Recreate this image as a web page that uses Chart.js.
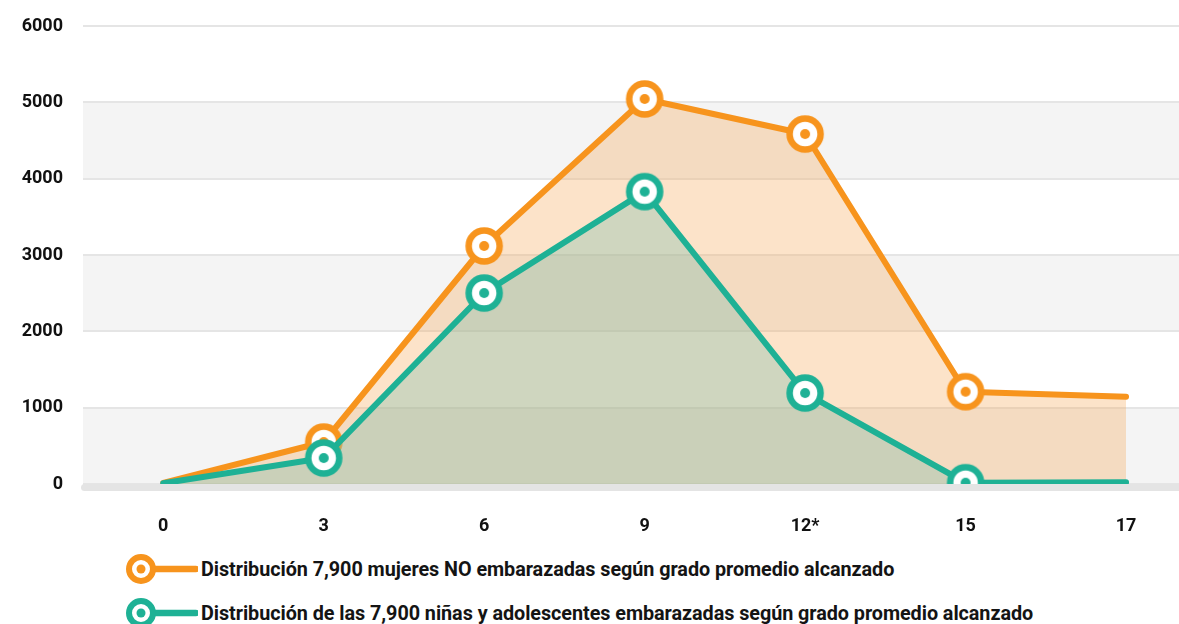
<!DOCTYPE html>
<html>
<head>
<meta charset="utf-8">
<script src="https://cdn.jsdelivr.net/npm/chart.js@4"></script>
<style>
    body { margin: 0; background: #fff; font-family: 'Roboto', sans-serif; }
    #wrap { position: relative; width: 1179px; height: 540px; }
    .legend-item { position: absolute; left: 118px; height: 40px; display: flex; align-items: center; }
    .legend-item span { font-weight: bold; font-size: 19.8px; color: #141414; margin-left: 3px; letter-spacing: -0.05px; }
</style>
</head>
<body>
<div id="wrap"><canvas id="myChart"></canvas></div>
<div class="legend-item" style="top:549px"><svg width="80" height="40" id="mk1"></svg><span>Distribución 7,900 mujeres NO embarazadas según grado promedio alcanzado</span></div>
<div class="legend-item" style="top:593px"><svg width="80" height="40" id="mk2"></svg><span>Distribución de las 7,900 niñas y adolescentes embarazadas según grado promedio alcanzado</span></div>
<script>
const categories = ['0', '3', '6', '9', '12*', '15', '17'];
const noEmbarazadas = [15, 550, 3118, 5044, 4585, 1209, 1144];
const embarazadas = [10, 340, 2502, 3830, 1192, 17, 22];
const yTicks = [0, 1000, 2000, 3000, 4000, 5000, 6000];
const pointSizes = [0, 16, 16, 16, 16, 16, 0];

const orange = '#f7941d';
const teal = '#1eb195';

// ring-with-dot marker used on the points
function makeMarker(color) {
    const c = document.createElement('canvas');
    c.width = 42; c.height = 42;
    const g = c.getContext('2d');
    g.beginPath();
    g.arc(21, 21, 15.5, 0, Math.PI * 2);
    g.fillStyle = '#fff';
    g.fill();
    g.lineWidth = 6.5;
    g.strokeStyle = color;
    g.stroke();
    g.beginPath();
    g.arc(21, 21, 5, 0, Math.PI * 2);
    g.fillStyle = color;
    g.fill();
    return c;
}

function legendMarker(id, color) {
    document.getElementById(id).innerHTML =
        `<line x1="28" y1="20" x2="78" y2="20" stroke="${color}" stroke-width="6.5" stroke-linecap="round"/>
         <circle cx="23" cy="20" r="12" fill="#fff" stroke="${color}" stroke-width="6"/>
         <circle cx="23" cy="20" r="4.5" fill="${color}"/>`;
}
legendMarker('mk1', orange);
legendMarker('mk2', teal);

const bands = {
    id: 'bands',
    beforeDraw(chart) {
        const { ctx, chartArea, scales } = chart;
        ctx.save();
        ctx.fillStyle = '#f4f4f4';
        for (let i = 0; i < yTicks.length - 1; i += 2) {
            const top = scales.y.getPixelForValue(yTicks[i + 1]);
            const bottom = scales.y.getPixelForValue(yTicks[i]);
            ctx.fillRect(chartArea.left, top, chartArea.right - chartArea.left, bottom - top);
        }
        ctx.restore();
    },
    beforeDatasetsDraw(chart) {
        // thick grey base line under zero
        const { ctx, chartArea, scales } = chart;
        const y0 = scales.y.getPixelForValue(0);
        ctx.save();
        ctx.fillStyle = '#e4e4e4';
        ctx.beginPath();
        ctx.roundRect(chartArea.left - 2, y0, chartArea.right - chartArea.left + 10, 7, 3.5);
        ctx.fill();
        ctx.restore();
    }
};

const toPoints = vals => vals.map((v, i) => ({ x: i, y: v }));

new Chart(document.getElementById('myChart'), {
    type: 'line',
    data: {
        datasets: [{
            label: 'Distribución 7,900 mujeres NO embarazadas según grado promedio alcanzado',
            data: toPoints(noEmbarazadas),
            borderColor: orange,
            backgroundColor: 'rgba(245,170,90,0.33)',
            borderWidth: 6,
            borderCapStyle: 'round',
            borderJoinStyle: 'round',
            fill: 'origin',
            pointStyle: makeMarker(orange),
            pointRadius: pointSizes,
            order: 2
        }, {
            label: 'Distribución de las 7,900 niñas y adolescentes embarazadas según grado promedio alcanzado',
            data: toPoints(embarazadas),
            borderColor: teal,
            backgroundColor: 'rgba(123,188,171,0.35)',
            borderWidth: 6,
            borderCapStyle: 'round',
            borderJoinStyle: 'round',
            fill: 'origin',
            pointStyle: makeMarker(teal),
            pointRadius: pointSizes,
            order: 1
        }]
    },
    options: {
        responsive: true,
        maintainAspectRatio: false,
        animation: false,
        layout: { autoPadding: false, padding: { top: 26, left: 0, right: 0, bottom: 0 } },
        plugins: { legend: { display: false }, tooltip: { enabled: false } },
        scales: {
            x: {
                type: 'linear',
                min: -0.5,
                max: 6.33,
                afterBuildTicks: s => { s.ticks = categories.map((c, i) => ({ value: i })); },
                afterFit: s => { s.height = 56; s.paddingLeft = 0; s.paddingRight = 0; },
                ticks: {
                    callback: v => categories[v],
                    color: '#111',
                    font: { family: 'Roboto', size: 18, weight: 'bold' },
                    padding: 24,
                    maxRotation: 0
                },
                grid: { display: false },
                border: { display: false }
            },
            y: {
                min: 0,
                max: 6000,
                afterBuildTicks: s => { s.ticks = yTicks.map(v => ({ value: v })); },
                afterFit: s => { s.width = 83; s.paddingTop = 0; s.paddingBottom = 0; },
                ticks: {
                    callback: v => String(v),
                    color: '#111',
                    font: { family: 'Roboto', size: 18, weight: 'bold' },
                    padding: 20
                },
                grid: { color: '#e5e5e5', lineWidth: 2, drawTicks: false },
                border: { display: false }
            }
        }
    },
    plugins: [bands]
});
</script>
</body>
</html>
